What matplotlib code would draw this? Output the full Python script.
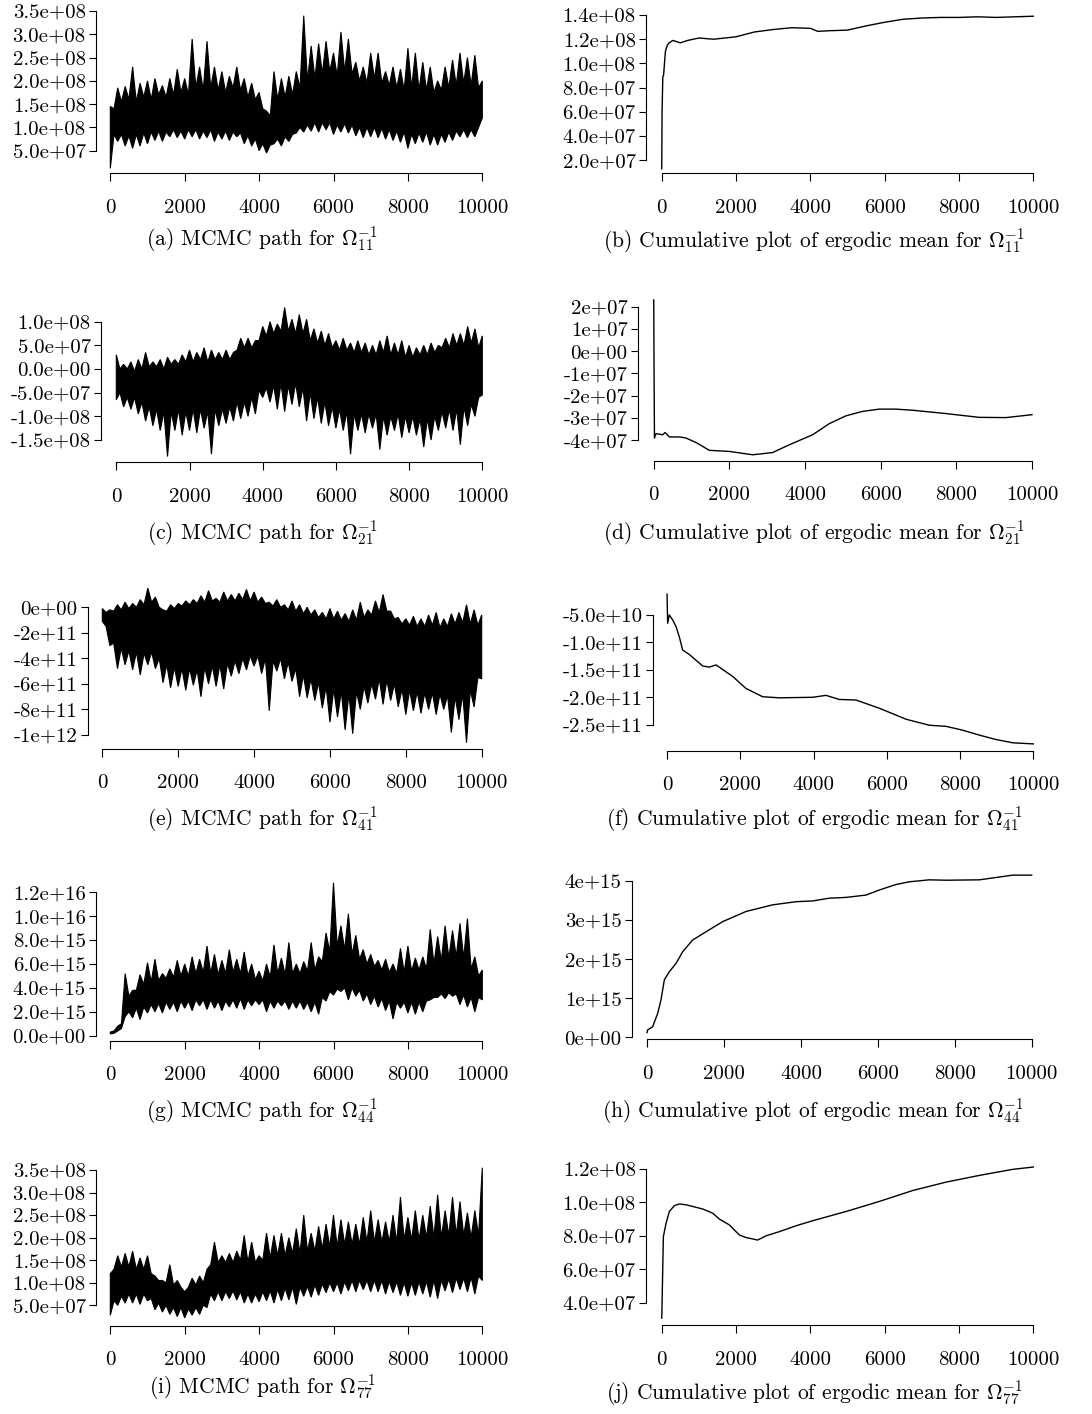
import numpy as np
import matplotlib
matplotlib.use('Agg')
import matplotlib.pyplot as plt

plt.rcParams['font.family'] = 'serif'
plt.rcParams['font.serif'] = ['cmr10']
plt.rcParams['mathtext.fontset'] = 'cm'
plt.rcParams['axes.unicode_minus'] = False
plt.rcParams['axes.formatter.use_mathtext'] = True

grid = np.arange(0, 10001, 200)
grid_mid = np.arange(100, 10000, 200)

# (a) path of Omega^-1_11, units 1e8
a_hi = [1.45, 1.85, 1.88, 2.3, 1.95, 2.0, 2.05, 1.9, 2.05, 2.25,
        2.05, 2.9, 2.3, 2.85, 2.3, 2.2, 2.1, 2.3, 2.05, 1.95,
        1.75, 1.35, 2.2, 2.05, 2.1, 2.2, 3.4, 2.75, 2.8, 2.85,
        2.6, 3.05, 2.9, 2.4, 2.3, 2.6, 2.6, 2.2, 2.3, 2.25,
        2.7, 2.6, 2.4, 2.3, 2.0, 2.3, 2.45, 2.6, 2.5, 2.55,
        2.0]
a_lo = [0.12, 0.7, 0.6, 0.55, 0.6, 0.65, 0.72, 0.7, 0.8, 0.78,
        0.75, 0.8, 0.75, 0.78, 0.7, 0.75, 0.72, 0.8, 0.65, 0.6,
        0.5, 0.45, 0.65, 0.6, 0.7, 0.88, 0.9, 0.92, 0.9, 0.95,
        0.85, 0.9, 0.88, 0.82, 0.78, 0.8, 0.78, 0.75, 0.72, 0.68,
        0.55, 0.65, 0.68, 0.62, 0.62, 0.68, 0.72, 0.8, 0.78, 0.8,
        1.2]
a_mhi = [1.4, 1.55, 1.6, 1.55, 1.65, 1.6, 1.7, 1.65, 1.7, 1.75,
         1.7, 1.85, 1.8, 1.85, 1.8, 1.75, 1.85, 1.8, 1.65, 1.6,
         1.4, 1.25, 1.6, 1.65, 1.7, 1.85, 2.0, 2.05, 2.15, 2.2,
         2.1, 2.2, 2.15, 2.0, 1.95, 2.05, 1.95, 1.9, 1.85, 1.8,
         1.85, 1.8, 1.8, 1.75, 1.8, 1.85, 1.9, 1.95, 1.9, 1.85]
a_mlo = [0.85, 0.85, 0.82, 0.85, 0.88, 0.9, 0.92, 0.9, 0.95, 0.92,
         0.95, 0.95, 0.92, 0.95, 0.9, 0.92, 0.9, 0.88, 0.82, 0.75,
         0.65, 0.62, 0.75, 0.8, 0.85, 1.0, 1.05, 1.1, 1.1, 1.1,
         1.05, 1.08, 1.05, 1.0, 1.0, 1.0, 0.98, 0.95, 0.92, 0.9,
         0.85, 0.88, 0.9, 0.85, 0.85, 0.9, 0.92, 0.95, 0.95, 1.0]

# (c) path of Omega^-1_21, units 1e8
c_hi = [0.3, 0.1, 0.15, 0.2, 0.35, 0.15, 0.2, 0.25, 0.2, 0.3,
        0.4, 0.35, 0.45, 0.4, 0.35, 0.4, 0.35, 0.65, 0.65, 0.6,
        0.9, 1.0, 0.95, 1.3, 1.05, 1.15, 1.05, 0.85, 0.8, 0.75,
        0.6, 0.65, 0.55, 0.6, 0.55, 0.5, 0.6, 0.7, 0.55, 0.6,
        0.5, 0.45, 0.5, 0.55, 0.5, 0.65, 0.75, 0.75, 0.9, 0.85,
        0.7]
c_lo = [-0.65, -0.8, -0.85, -0.95, -1.1, -1.2, -1.3, -1.85, -1.3, -1.4,
        -1.3, -1.35, -1.25, -1.8, -1.2, -1.15, -1.1, -1.05, -1.0, -0.95,
        -0.6, -0.7, -0.85, -0.9, -0.75, -0.8, -1.1, -1.05, -1.15, -1.2,
        -1.25, -1.3, -1.8, -1.3, -1.35, -1.25, -1.7, -1.4, -1.3, -1.45,
        -1.35, -1.4, -1.65, -1.5, -1.3, -1.25, -1.3, -1.6, -1.2, -1.0,
        -0.55]
c_mhi = [0.0, 0.0, -0.05, 0.0, 0.05, 0.05, 0.0, 0.1, 0.1, 0.15,
         0.15, 0.2, 0.15, 0.2, 0.2, 0.2, 0.4, 0.45, 0.45, 0.6,
         0.7, 0.75, 0.8, 0.8, 0.75, 0.75, 0.6, 0.55, 0.5, 0.45,
         0.4, 0.4, 0.35, 0.35, 0.3, 0.3, 0.35, 0.3, 0.3, 0.25,
         0.25, 0.3, 0.3, 0.35, 0.45, 0.45, 0.5, 0.5, 0.55, 0.45]
c_mlo = [-0.5, -0.6, -0.6, -0.7, -0.8, -0.85, -0.9, -0.9, -0.85, -0.9,
         -0.85, -0.85, -0.9, -0.85, -0.85, -0.8, -0.7, -0.7, -0.6, -0.45,
         -0.4, -0.35, -0.3, -0.35, -0.3, -0.4, -0.5, -0.6, -0.7, -0.8,
         -0.85, -0.9, -0.95, -0.95, -0.95, -0.95, -1.0, -1.0, -0.95, -1.0,
         -1.0, -1.05, -1.05, -1.0, -0.9, -0.85, -0.85, -0.8, -0.75, -0.6]

# (e) path of Omega^-1_41, units 1e11
e_hi = [-0.1, -0.2, 0.2, 0.4, 0.3, 0.6, 1.5, 0.8, -0.2, 0.2,
        0.3, 0.5, 0.6, 0.9, 1.3, 0.7, 1.2, 1.0, 1.1, 1.4,
        1.2, 0.8, 0.4, 0.6, 0.2, 0.5, 0.2, 0.0, -0.2, -0.4,
        -0.1, -0.3, -0.5, -0.2, 0.4, -0.2, 0.5, 1.0, -0.3, -0.8,
        -0.9, -0.7, -0.9, -0.6, -0.4, -0.9, -0.5, -0.4, 0.2, -0.2,
        -0.6]
e_lo = [-1.1, -3.0, -4.8, -4.5, -4.9, -5.3, -4.5, -4.8, -5.9, -6.3,
        -6.2, -6.5, -6.1, -7.0, -6.0, -6.2, -6.4, -5.4, -5.2, -4.9,
        -4.6, -5.2, -8.1, -5.0, -5.6, -5.8, -7.0, -7.1, -7.3, -7.9,
        -9.0, -8.6, -9.6, -9.9, -8.0, -7.5, -7.2, -7.6, -7.3, -7.8,
        -8.4, -8.1, -8.3, -8.0, -8.4, -8.0, -9.8, -8.8, -10.6, -7.8,
        -5.6]
e_mhi = [-0.4, -0.3, -0.2, -0.1, 0.0, 0.2, 0.4, 0.0, -0.3, -0.1,
         0.1, 0.2, 0.3, 0.4, 0.5, 0.4, 0.5, 0.5, 0.6, 0.5,
         0.4, 0.3, 0.1, 0.0, -0.2, -0.3, -0.5, -0.6, -0.8, -0.9,
         -0.9, -1.0, -1.1, -1.0, -0.8, -0.6, -0.4, -0.3, -0.9, -1.3,
         -1.4, -1.5, -1.5, -1.4, -1.6, -1.5, -1.3, -1.2, -1.3, -1.4]
e_mlo = [-1.5, -2.8, -3.2, -3.4, -3.5, -3.6, -3.5, -4.0, -4.5, -4.7,
         -4.8, -4.8, -4.9, -4.7, -4.6, -4.5, -4.4, -4.2, -4.0, -3.8,
         -3.8, -4.0, -4.2, -4.0, -4.3, -4.8, -5.3, -5.6, -5.9, -6.2,
         -6.4, -6.6, -6.8, -6.6, -6.2, -6.0, -5.6, -5.7, -6.0, -6.4,
         -6.5, -6.6, -6.7, -6.7, -6.8, -6.9, -7.0, -6.8, -6.5, -5.5]

# (g) path of Omega^-1_44, units 1e15
g_hi = [0.3, 0.8, 5.2, 3.8, 5.1, 6.1, 6.4, 5.2, 5.6, 6.3,
        6.0, 6.6, 6.4, 7.5, 6.8, 6.3, 7.2, 6.4, 7.0, 6.0,
        5.4, 6.0, 7.6, 6.5, 7.8, 6.0, 6.2, 7.8, 6.6, 8.6,
        12.8, 9.2, 10.2, 8.4, 7.2, 6.8, 6.3, 6.4, 6.0, 7.3,
        7.5, 6.5, 6.6, 8.9, 8.3, 9.2, 8.8, 9.4, 9.8, 6.6,
        5.5]
g_lo = [0.15, 0.4, 1.6, 1.5, 1.35, 1.9, 2.0, 1.9, 2.2, 2.0,
        2.3, 2.1, 2.5, 2.2, 2.3, 2.1, 2.4, 2.3, 2.2, 2.5,
        2.6, 2.0, 2.3, 2.5, 2.2, 2.3, 2.2, 2.0, 1.8, 2.9,
        3.4, 3.7, 3.0, 3.3, 2.9, 2.6, 2.4, 2.1, 1.4, 2.3,
        1.9, 1.8, 2.0, 3.0, 3.2, 3.1, 3.3, 2.6, 2.4, 2.0,
        3.0]
g_mhi = [0.4, 1.0, 3.3, 3.8, 4.3, 4.5, 4.6, 4.8, 4.9, 5.0,
         5.0, 5.2, 5.3, 5.2, 5.1, 5.2, 5.3, 5.2, 5.0, 4.7,
         4.6, 4.9, 5.2, 5.1, 5.2, 5.2, 5.4, 5.5, 6.2, 7.0,
         7.5, 7.2, 6.8, 6.4, 6.0, 5.8, 5.5, 5.3, 5.2, 5.3,
         5.4, 5.5, 5.6, 6.0, 6.3, 6.5, 6.6, 6.5, 5.6, 5.0]
g_mlo = [0.2, 0.6, 2.0, 2.3, 2.4, 2.6, 2.7, 2.8, 2.8, 2.9,
         2.9, 3.0, 3.0, 3.0, 2.9, 2.9, 3.0, 3.1, 3.0, 3.0,
         3.0, 2.9, 2.9, 2.9, 2.9, 2.9, 2.8, 2.8, 3.2, 3.7,
         3.9, 4.0, 4.0, 3.8, 3.5, 3.3, 3.1, 2.9, 2.8, 2.8,
         2.8, 2.8, 2.9, 3.2, 3.5, 3.6, 3.5, 3.4, 3.2, 3.2]

# (i) path of Omega^-1_77, units 1e8
i_hi = [1.2, 1.6, 1.65, 1.7, 1.55, 1.6, 1.15, 1.05, 1.4, 1.05,
        0.8, 1.1, 1.15, 1.3, 1.9, 1.6, 1.65, 1.7, 2.05, 1.9,
        1.6, 2.1, 2.05, 2.1, 2.0, 2.2, 2.5, 2.1, 2.25, 2.3,
        2.5, 2.4, 2.35, 2.3, 2.45, 2.6, 2.4, 2.35, 2.5, 2.9,
        2.45, 2.6, 2.5, 2.7, 2.95, 2.6, 2.9, 2.8, 2.55, 2.6,
        3.55]
i_lo = [0.28, 0.5, 0.55, 0.55, 0.52, 0.6, 0.4, 0.35, 0.3, 0.25,
        0.22, 0.28, 0.3, 0.45, 0.6, 0.6, 0.65, 0.62, 0.55, 0.55,
        0.58, 0.6, 0.55, 0.6, 0.62, 0.52, 0.7, 0.68, 0.72, 0.78,
        0.8, 0.75, 0.82, 0.8, 0.85, 0.8, 0.8, 0.75, 0.78, 0.72,
        0.7, 0.72, 0.75, 0.68, 0.65, 0.82, 0.78, 0.85, 0.8, 0.75,
        1.05]
i_mhi = [1.3, 1.35, 1.35, 1.3, 1.3, 1.2, 1.05, 1.0, 0.95, 0.9,
         0.9, 0.95, 1.0, 1.4, 1.45, 1.45, 1.45, 1.5, 1.45, 1.45,
         1.5, 1.55, 1.6, 1.6, 1.65, 1.65, 1.7, 1.7, 1.75, 1.8,
         1.8, 1.85, 1.85, 1.85, 1.9, 1.9, 1.9, 1.9, 1.9, 1.95,
         1.95, 1.95, 2.0, 2.0, 2.0, 2.05, 2.05, 2.05, 2.0, 2.05]
i_mlo = [0.6, 0.7, 0.75, 0.75, 0.75, 0.65, 0.55, 0.5, 0.45, 0.45,
         0.42, 0.45, 0.5, 0.75, 0.8, 0.8, 0.82, 0.8, 0.75, 0.75,
         0.8, 0.82, 0.85, 0.88, 0.9, 0.9, 0.92, 0.95, 0.97, 1.0,
         1.0, 1.02, 1.05, 1.05, 1.05, 1.05, 1.05, 1.03, 1.02, 1.0,
         1.0, 1.02, 1.03, 1.05, 1.05, 1.08, 1.1, 1.1, 1.12, 1.15]

# ergodic means
b_it = [1, 10, 30, 50, 100, 150, 200, 300, 400, 500, 700, 1000, 1400, 2000, 2500, 3000,
        3500, 4000, 4200, 4500, 5000, 5500, 6000, 6500, 7000, 7500, 8000, 8500, 9000, 9500, 10000]
b_val = [0.13, 0.6, 0.89, 0.9, 1.1, 1.15, 1.17, 1.19, 1.18, 1.17, 1.19, 1.21, 1.20, 1.22, 1.26, 1.28,
         1.295, 1.29, 1.265, 1.27, 1.275, 1.31, 1.34, 1.365, 1.375, 1.38, 1.38, 1.385, 1.38, 1.385, 1.39]  # 1e8

d_it = [1, 10, 20, 60, 240, 300, 414, 700, 855, 1119, 1471, 2000, 2617, 3145, 3586, 4202,
        4643, 5083, 5524, 5964, 6400, 6845, 7726, 8607, 9312, 10000]
d_val = [2.3, -1.0, -3.9, -3.7, -3.75, -3.65, -3.85, -3.85, -3.9, -4.1, -4.45, -4.5, -4.65, -4.55, -4.2, -3.75,
         -3.25, -2.9, -2.7, -2.6, -2.6, -2.65, -2.8, -2.97, -2.98, -2.85]  # 1e7

f_it = [1, 18, 64, 155, 246, 337, 428, 610, 974, 1156, 1338, 1793, 2157, 2612, 3067, 3977,
        4341, 4705, 5160, 5797, 6525, 7162, 7617, 8072, 8527, 8982, 9437, 10000]
f_val = [-1.2, -6.5, -5.0, -5.9, -7.1, -9.0, -11.4, -12.2, -14.3, -14.5, -14.1, -16.2, -18.4, -19.9, -20.1, -20.0,
         -19.65, -20.4, -20.5, -22.0, -24.0, -25.1, -25.3, -26.0, -26.9, -27.7, -28.3, -28.5]  # 1e10

h_it = [1, 17, 147, 277, 364, 451, 581, 754, 927, 1187, 1534, 1967, 2574, 3267, 3874, 4307,
        4740, 5174, 5694, 6040, 6473, 6820, 7340, 7773, 8640, 9073, 9507, 10000]
h_val = [0.12, 0.19, 0.27, 0.61, 0.96, 1.47, 1.68, 1.89, 2.19, 2.49, 2.7, 2.96, 3.22, 3.39, 3.47, 3.49,
         3.56, 3.58, 3.64, 3.77, 3.91, 3.98, 4.03, 4.02, 4.03, 4.09, 4.15, 4.15]  # 1e15

j_it = [1, 9, 45, 117, 206, 341, 475, 655, 834, 1103, 1372, 1552, 1821, 2090, 2269, 2583,
        2807, 3166, 3615, 4063, 4960, 5857, 6754, 7651, 8547, 9444, 10000]
j_val = [3.1, 3.9, 7.95, 8.75, 9.45, 9.8, 9.9, 9.85, 9.75, 9.6, 9.35, 9.0, 8.65, 8.05, 7.9, 7.75,
         8.0, 8.25, 8.6, 8.9, 9.45, 10.05, 10.7, 11.2, 11.6, 11.96, 12.1]  # 1e7

x_ticks = [0, 2000, 4000, 6000, 8000, 10000]

# y ticks per panel
a_ticks = [5e7, 1e8, 1.5e8, 2e8, 2.5e8, 3e8, 3.5e8]
b_ticks = [2e7, 4e7, 6e7, 8e7, 1e8, 1.2e8, 1.4e8]
c_ticks = [-1.5e8, -1e8, -5e7, 0, 5e7, 1e8]
d_ticks = [-4e7, -3e7, -2e7, -1e7, 0, 1e7, 2e7]
e_ticks = [-1e12, -8e11, -6e11, -4e11, -2e11, 0]
f_ticks = [-2.5e11, -2e11, -1.5e11, -1e11, -5e10]
g_ticks = [0, 2e15, 4e15, 6e15, 8e15, 1e16, 1.2e16]
h_ticks = [0, 1e15, 2e15, 3e15, 4e15]
i_ticks = [5e7, 1e8, 1.5e8, 2e8, 2.5e8, 3e8, 3.5e8]
j_ticks = [4e7, 6e7, 8e7, 1e8, 1.2e8]

captions = [
    r'(a) MCMC path for $\Omega_{11}^{-1}$',
    r'(b) Cumulative plot of ergodic mean for $\Omega_{11}^{-1}$',
    r'(c) MCMC path for $\Omega_{21}^{-1}$',
    r'(d) Cumulative plot of ergodic mean for $\Omega_{21}^{-1}$',
    r'(e) MCMC path for $\Omega_{41}^{-1}$',
    r'(f) Cumulative plot of ergodic mean for $\Omega_{41}^{-1}$',
    r'(g) MCMC path for $\Omega_{44}^{-1}$',
    r'(h) Cumulative plot of ergodic mean for $\Omega_{44}^{-1}$',
    r'(i) MCMC path for $\Omega_{77}^{-1}$',
    r'(j) Cumulative plot of ergodic mean for $\Omega_{77}^{-1}$',
]

# panel series: (x, y, y_low, band_hi, band_lo, scale, ticks, fmt)
panels = [
    (grid, a_hi, a_lo, a_mhi, a_mlo, 1e8, a_ticks, '%.1e'),
    (b_it, b_val, None, None, None, 1e8, b_ticks, '%.1e'),
    (grid, c_hi, c_lo, c_mhi, c_mlo, 1e8, c_ticks, '%.1e'),
    (d_it, d_val, None, None, None, 1e7, d_ticks, '%.0e'),
    (grid, e_hi, e_lo, e_mhi, e_mlo, 1e11, e_ticks, '%.0e'),
    (f_it, f_val, None, None, None, 1e10, f_ticks, '%.1e'),
    (grid, g_hi, g_lo, g_mhi, g_mlo, 1e15, g_ticks, '%.1e'),
    (h_it, h_val, None, None, None, 1e15, h_ticks, '%.0e'),
    (grid, i_hi, i_lo, i_mhi, i_mlo, 1e8, i_ticks, '%.1e'),
    (j_it, j_val, None, None, None, 1e7, j_ticks, '%.1e'),
]

# pixel layout: spine x, x of 0, x of 10000, x-axis y, two y calibration ticks (tick index, px), caption centre & baseline
layout = [
    (96.0, 110.3, 482.3, 173.3, (0, 150.7), (6, 11.0), 262, 246),
    (646.0, 661.7, 1033.3, 173.3, (0, 160.3), (6, 15.0), 814, 248),
    (101.0, 116.3, 482.3, 462.3, (0, 440.0), (5, 321.7), 262, 539),
    (638.0, 653.7, 1032.0, 461.0, (0, 440.3), (6, 306.7), 814, 539),
    (87.7, 102.3, 481.7, 749.0, (0, 735.0), (5, 607.3), 262, 826),
    (653.3, 667.0, 1033.3, 750.7, (0, 724.7), (4, 615.0), 814, 826),
    (96.0, 110.3, 482.3, 1040.7, (0, 1035.7), (6, 892.3), 262, 1118),
    (632.0, 647.0, 1031.7, 1039.3, (0, 1037.3), (4, 881.0), 813, 1118),
    (96.0, 110.3, 482.3, 1325.7, (0, 1305.3), (6, 1170.0), 263, 1393),
    (646.0, 661.7, 1033.3, 1325.3, (0, 1303.0), (4, 1168.7), 814, 1399),
]

W, H = 1092, 1414
fig = plt.figure(figsize=(W / 100, H / 100), dpi=100)

for (x, y1, y2, mhi, mlo, scale, ticks, fmt), lay, cap in zip(panels, layout, captions):
    spine_x, x0, x10k, axis_y, (k1, p1), (k2, p2), cx, cy = lay
    y1 = np.array(y1) * scale
    ymin, ymax = y1.min(), y1.max()
    if y2 is not None:
        y2 = np.array(y2) * scale
        ymin = min(ymin, y2.min())
    v1, v2 = ticks[k1], ticks[k2]
    ppu = (p1 - p2) / (v2 - v1)
    lo = v1 - (axis_y - p1) / ppu
    hi = ymax + 0.04 * (ymax - ymin)
    h_px = (hi - lo) * ppu
    right = x10k + (x0 - spine_x)
    ax = fig.add_axes([spine_x / W, 1 - axis_y / H, (right - spine_x) / W, h_px / H])
    xs = (x10k - x0) / 10000
    ax.set_xlim(-(x0 - spine_x) / xs, 10000 + (right - x10k) / xs)
    ax.set_ylim(lo, hi)

    if y2 is not None:
        # band outline: spike tips alternating with the band edge in between
        ex = np.empty(len(x) + len(grid_mid))
        ex[0::2] = x
        ex[1::2] = grid_mid
        top = np.empty_like(ex)
        top[0::2] = y1
        top[1::2] = np.array(mhi) * scale
        bot = np.empty_like(ex)
        bot[0::2] = y2
        bot[1::2] = np.array(mlo) * scale
        ax.fill(np.concatenate([ex, ex[::-1]]), np.concatenate([top, bot[::-1]]),
                facecolor='black', edgecolor='black', lw=0.8)
    else:
        ax.plot(x, y1, color='black', lw=1.0)

    ax.set_xticks(x_ticks, [str(t) for t in x_ticks])
    ax.set_yticks(ticks, [fmt % t for t in ticks])
    for s in ['top', 'right']:
        ax.spines[s].set_visible(False)
    ax.spines['left'].set_bounds(ticks[0], ticks[-1])
    ax.spines['bottom'].set_bounds(0, 10000)
    for s in ['left', 'bottom']:
        ax.spines[s].set_linewidth(0.8)
    ax.tick_params(direction='out', length=5.4, width=0.8, labelsize=15, colors='black')
    ax.tick_params(axis='x', pad=13)
    ax.tick_params(axis='y', pad=2)
    ax.patch.set_visible(False)

    fig.text(cx / W, 1 - cy / H, cap, ha='center', va='baseline', fontsize=15.5)

fig.savefig('out.png', dpi=100)
